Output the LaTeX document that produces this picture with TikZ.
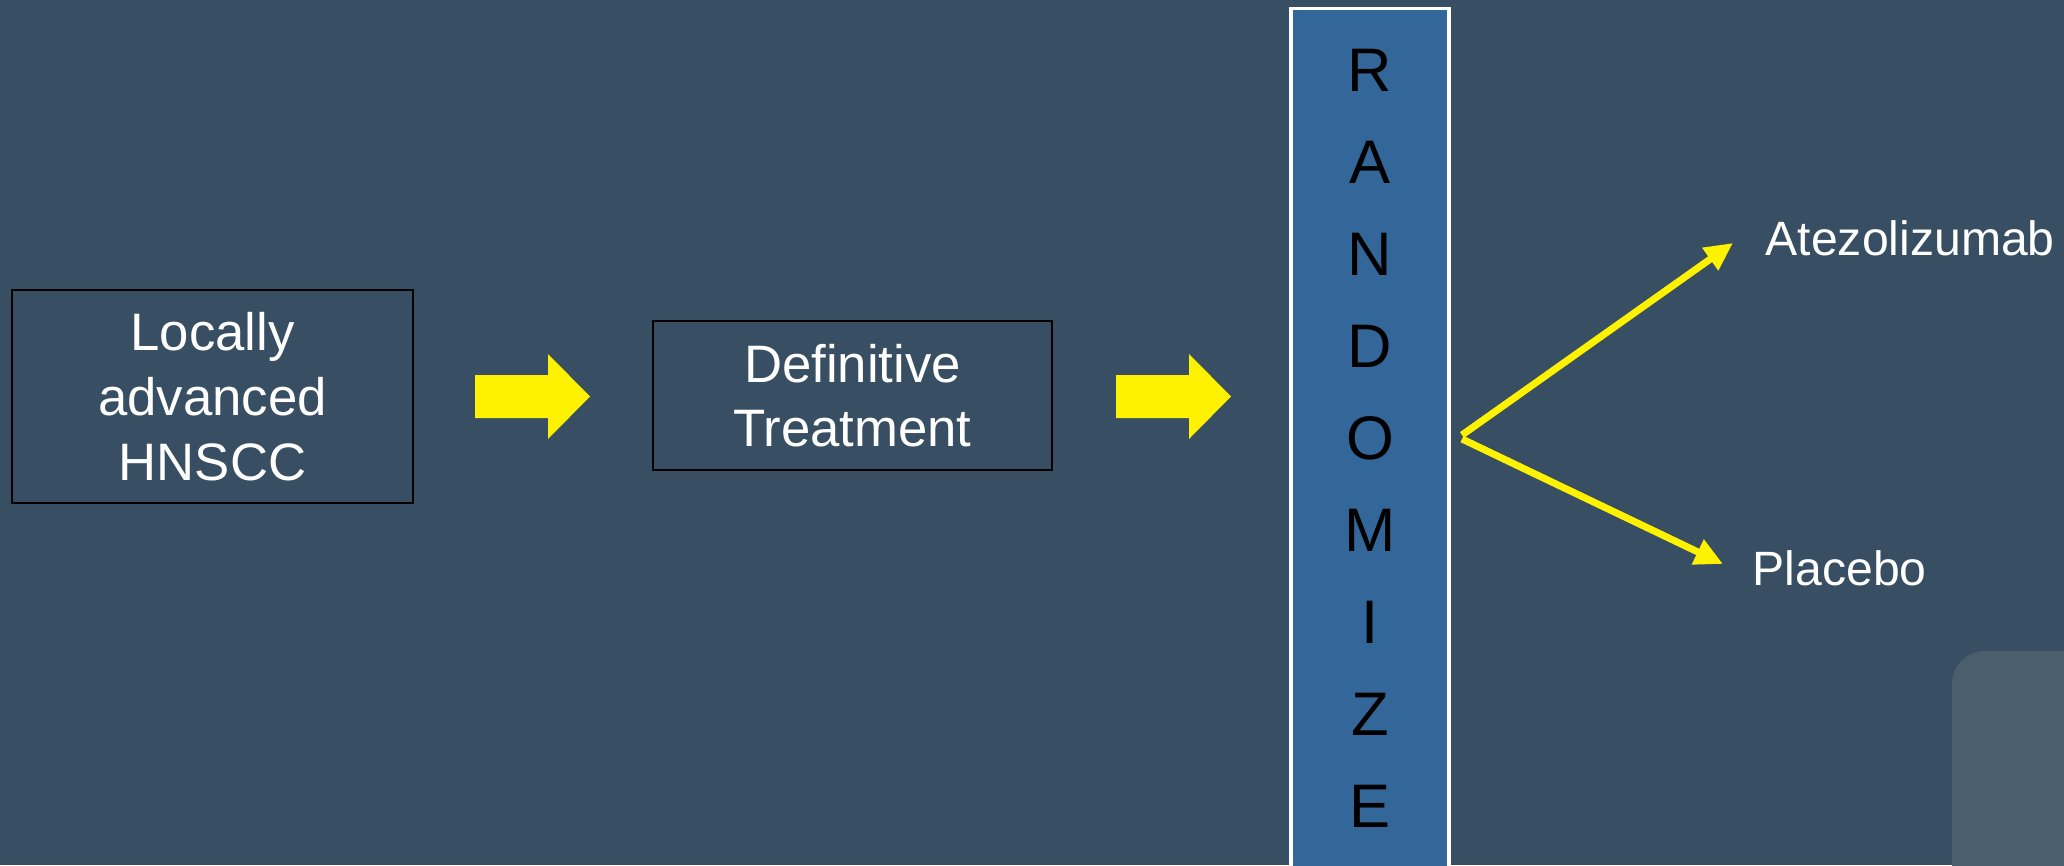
\documentclass[tikz,border=0pt]{standalone}
\usepackage{fontspec}
\setmainfont{Liberation Sans}
\usetikzlibrary{arrows.meta}
\definecolor{slidebg}{HTML}{384E63}
\definecolor{randblue}{HTML}{336699}
\definecolor{cornergray}{HTML}{4B5E6E}

\begin{document}
\begin{tikzpicture}[
	stagebox/.style={shape=rectangle, draw=black, line width=0.8pt, text=white, align=center, font=\fontsize{15}{18.4}\selectfont},
	letter/.style={anchor=base, text=black, inner sep=0pt, font=\fontsize{17.5}{20}\selectfont},
	armlabel/.style={anchor=base west, text=white, inner sep=0pt, font=\fontsize{13.7}{16}\selectfont},
	fork/.style={draw=yellow, line width=2pt, -{Triangle[length=0.28cm, width=0.26cm]}}]
	% Background and frame:
	\fill[slidebg] (0,0) rectangle (20.64,8.65);
	\useasboundingbox (0,0) rectangle (20.64,8.65);
	\fill[cornergray, rounded corners=0.33cm] (19.52,-0.5) rectangle (21.2,2.14);
	% Stage boxes:
	\node[stagebox, minimum width=4.01cm, minimum height=2.13cm] (hnscc) at (2.125, 4.685){Locally\\advanced\\HNSCC};
	\node[stagebox, minimum width=3.99cm, minimum height=1.49cm] (definitive) at (8.525, 4.695){Definitive\\Treatment};
	% Block arrows:
	\foreach \x in {4.75, 11.16}
		\fill[yellow, xshift=\x cm] (0,4.47) -- (0.73,4.47) -- (0.73,4.26) -- (1.15,4.685) -- (0.73,5.11) -- (0.73,4.90) -- (0,4.90) -- cycle;
	% Randomize column:
	\node[shape=rectangle, draw=white, line width=0.9pt, fill=randblue, minimum width=1.58cm, minimum height=9cm, anchor=north] (randomize) at (13.70, 8.58){};
	\foreach \l [count=\i from 0] in {R,A,N,D,O,M,I,Z,E}
		\node[letter] (letter\i) at (13.70, {7.74 - 0.921*\i}){\l};
	% Arms:
	\coordinate (split) at (14.62, 4.30);
	\coordinate (upTip) at (17.33, 6.22);
	\coordinate (downTip) at (17.23, 3.01);
	\draw[fork] (split) -- (upTip);
	\draw[fork] ([yshift=-0.04cm]split) -- (downTip);
	\node[armlabel] (atezo) at (17.65, 6.10){Atezolizumab};
	\node[armlabel] (placebo) at (17.52, 2.80){Placebo};
\end{tikzpicture}
\end{document}
